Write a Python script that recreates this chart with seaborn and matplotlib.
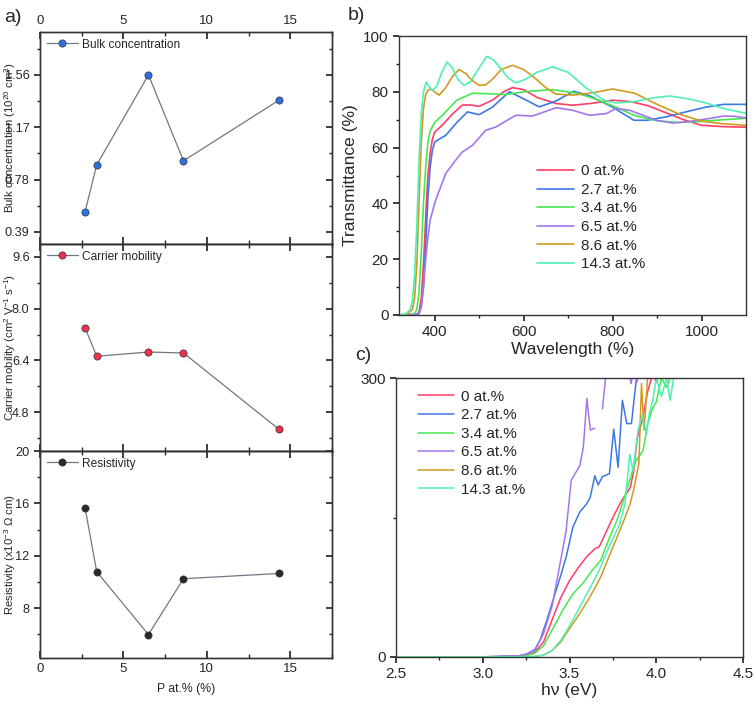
import numpy as np
import pandas as pd
import matplotlib
matplotlib.use("Agg")
import matplotlib.pyplot as plt
from matplotlib.ticker import MultipleLocator, FixedLocator
import seaborn as sns

sns.set_theme(style="white")
plt.rcParams['font.family'] = ['Liberation Sans', 'DejaVu Sans']
plt.rcParams['mathtext.fontset'] = 'custom'
plt.rcParams['mathtext.rm'] = 'Liberation Sans'
plt.rcParams['mathtext.default'] = 'regular'

# ---------------- Panel a data ----------------
p_at = [2.7, 3.4, 6.5, 8.6, 14.3]
bulk_conc = [0.54, 0.89, 1.56, 0.92, 1.37]
mobility = [7.41, 6.53, 6.66, 6.63, 4.28]
resistivity = [15.67, 10.78, 5.99, 10.25, 10.65]

# ---------------- Panel b data (transmittance) ----------------
labels = ['0 at.%', '2.7 at.%', '3.4 at.%', '6.5 at.%', '8.6 at.%', '14.3 at.%']
colors = ['#ff3d66', '#3d78e6', '#45e84f', '#a475ee', '#d29a1e', '#4ff0b4']

wl_0 = [320, 340, 360, 365, 370, 375, 380, 385, 390, 395, 400, 417, 440, 462, 480, 500, 530, 555, 575, 600, 630, 673, 710, 750, 800, 840, 880, 920, 960, 1000, 1050, 1100]
T_0 = [0, 0, 0.3, 1, 6, 18, 35, 50, 58, 63, 65.5, 68, 72, 75.2, 75.3, 74.8, 77, 80, 81.5, 80.8, 78, 75.8, 75.2, 75.8, 77, 76.5, 75, 72.5, 70, 68, 67.5, 67.3]

wl_27 = [320, 340, 360, 365, 370, 375, 380, 385, 390, 395, 400, 425, 450, 474, 500, 530, 568, 600, 635, 670, 713, 750, 800, 848, 878, 920, 970, 1010, 1049, 1100]
T_27 = [0, 0, 0.2, 0.5, 3, 10, 25, 42, 53, 59, 62, 64.4, 69, 72.8, 71.8, 74.5, 80, 77.5, 74.6, 76.5, 80.2, 78.5, 74.5, 69.8, 69.8, 71, 73, 74.5, 75.5, 75.5]

wl_34 = [320, 340, 355, 360, 365, 370, 375, 380, 385, 390, 400, 420, 450, 485, 520, 560, 600, 665, 720, 760, 800, 850, 900, 950, 1000, 1050, 1100]
T_34 = [0, 0, 0.5, 2, 8, 22, 40, 53, 62, 66, 69, 72, 77, 79.5, 79.3, 79, 80, 80.8, 79.5, 77.5, 75, 71.5, 69.6, 69, 69.4, 70, 70.5]

wl_65 = [320, 340, 360, 365, 370, 375, 380, 385, 390, 402, 425, 445, 462, 485, 515, 538, 560, 583, 620, 650, 673, 710, 748, 786, 808, 838, 870, 898, 936, 980, 1020, 1049, 1075, 1100]
T_65 = [0, 0, 0.2, 0.5, 3, 10, 20, 28, 34, 41, 50.7, 55, 58.4, 60.8, 66.2, 67.4, 69.5, 71.6, 71.3, 73, 74.3, 73.4, 71.6, 72.2, 74, 73.4, 71.5, 69.8, 68.8, 69.5, 70.5, 71.3, 71.2, 70.6]

wl_86 = [320, 340, 350, 355, 360, 365, 370, 375, 380, 385, 391, 400, 410, 425, 440, 455, 470, 485, 500, 515, 530, 550, 575, 600, 625, 650, 673, 710, 750, 800, 850, 900, 950, 1000, 1050, 1100]
T_86 = [0, 0.3, 2, 6, 18, 40, 62, 74, 79, 80.5, 81, 80, 78.8, 81.5, 85.5, 88, 86.5, 84, 82.3, 82.5, 84.5, 88, 89.5, 88, 85, 81.5, 79.2, 78.8, 79.5, 81, 79.5, 75.5, 72, 69.5, 68.5, 68]

wl_143 = [320, 335, 345, 350, 355, 360, 365, 370, 375, 381, 387, 395, 405, 415, 428, 440, 452, 466, 480, 500, 517, 532, 548, 565, 583, 605, 630, 665, 700, 740, 780, 808, 850, 890, 928, 970, 1010, 1050, 1100]
T_143 = [0, 0.3, 2, 5, 14, 32, 55, 72, 80, 83.5, 82, 80.5, 82, 86.5, 90.7, 88.5, 84.5, 82.3, 83.5, 88.5, 92.7, 91.5, 88.5, 85, 83.2, 84.5, 87, 88.9, 87, 81.5, 77, 76, 76.5, 77.8, 78.5, 77.5, 76, 74, 72.3]

# ---------------- Panel c data (Tauc) ----------------
hv_0 = [2.5, 3.0, 3.2, 3.25, 3.3, 3.35, 3.4, 3.45, 3.5, 3.55, 3.6, 3.65, 3.67, 3.7, 3.75, 3.8, 3.85, 3.87, 3.89, 3.92, 3.95, 3.98, 4.0, 4.02]
a_0 = [0, 0.2, 1, 2, 5, 16, 40, 64, 82, 96, 108, 117, 118, 130, 150, 168, 182, 200, 235, 255, 285, 305, 295, 310]

hv_27 = [2.5, 3.0, 3.2, 3.25, 3.3, 3.33, 3.37, 3.41, 3.45, 3.48, 3.52, 3.56, 3.6, 3.62, 3.646, 3.665, 3.69, 3.73, 3.755, 3.78, 3.805, 3.83, 3.857, 3.886, 3.9]
a_27 = [0, 0.2, 1, 3, 8, 18, 40, 64, 88, 107, 140, 156, 165, 172, 195, 185, 194, 197, 245, 204, 276, 251, 251, 300, 320]

hv_65a = [2.5, 3.0, 3.2, 3.25, 3.3, 3.35, 3.4, 3.44, 3.48, 3.51, 3.56, 3.58, 3.6, 3.62, 3.646]
a_65a = [0, 0.2, 1, 3, 7, 25, 55, 95, 135, 190, 206, 226, 278, 244, 246]
hv_65b = [3.69, 3.713, 3.75, 3.8, 3.84, 3.855, 3.87, 3.89, 3.9, 3.93]
a_65b = [267, 310, 330, 320, 310, 294, 310, 296, 310, 320]

hv_34 = [2.5, 3.0, 3.2, 3.25, 3.3, 3.35, 3.4, 3.46, 3.52, 3.58, 3.63, 3.68, 3.73, 3.78, 3.83, 3.88, 3.924, 3.95, 3.98, 4.0, 4.03, 4.06, 4.1]
a_34 = [0, 0.1, 0.5, 1.5, 4, 12, 29, 50, 68, 80, 93, 104, 128, 150, 180, 210, 222, 250, 268, 274, 300, 290, 310]

hv_86 = [2.5, 3.0, 3.3, 3.35, 3.4, 3.45, 3.48, 3.52, 3.56, 3.6, 3.64, 3.68, 3.71, 3.75, 3.79, 3.82, 3.85, 3.87, 3.9, 3.915, 3.93, 3.95, 3.97]
a_86 = [0, 0, 0.5, 2, 7, 16, 25, 36, 47, 59, 72, 86, 100, 118, 136, 150, 165, 180, 208, 294, 244, 300, 310]

hv_143 = [2.5, 3.0, 3.3, 3.35, 3.4, 3.45, 3.48, 3.52, 3.56, 3.6, 3.64, 3.68, 3.71, 3.75, 3.79, 3.82, 3.847, 3.866, 3.895, 3.92, 3.943, 3.96, 3.98, 4.0, 4.03, 4.06, 4.08, 4.1, 4.12]
a_143 = [0, 0, 0.5, 2, 7, 18, 27, 40, 54, 68, 82, 97, 111, 127, 143, 165, 218, 200, 244, 260, 240, 262, 276, 300, 280, 300, 276, 300, 310]

# ---------------- Figure ----------------
fig = plt.figure(figsize=(7.56, 7.05), dpi=100)
W, H = 756, 705

def box(l, t, r, b):
    return [l / W, (H - b) / H, (r - l) / W, (b - t) / H]

ax1 = fig.add_axes(box(40, 32, 332, 244))
ax2 = fig.add_axes(box(40, 244, 332, 451))
ax3 = fig.add_axes(box(40, 451, 332, 658))
axb = fig.add_axes(box(399, 36, 746, 315))
axc = fig.add_axes(box(396, 378, 743, 657))

line_gray = '#6f7880'
panel_a = [
    (ax1, bulk_conc, '#2f6fe6', 'Bulk concentration', 'Bulk concentration (10$^{20}$ cm$^{3}$)', (0.30, 1.88), [0.39, 0.78, 1.17, 1.56], 0.195, '{:.2f}'),
    (ax2, mobility, '#f0304e', 'Carrier mobility', 'Carrier mobility (cm$^{2}$ V$^{-1}$ s$^{-1}$)', (3.6, 10.0), [4.8, 6.4, 8.0, 9.6], 0.8, '{:.1f}'),
    (ax3, resistivity, '#2a2a2a', 'Resistivity', 'Resistivity (x10$^{-3}$ Ω cm)', (4.2, 20.0), [8, 12, 16, 20], 2, '{:.0f}'),
]
for ax, vals, mc, lab, ylab, ylim, yt, ymin, fmt in panel_a:
    df = pd.DataFrame({'x': p_at, 'y': vals})
    sns.lineplot(data=df, x='x', y='y', ax=ax, color=line_gray, lw=0.9,
                 marker='o', markersize=5.2, markerfacecolor=mc,
                 markeredgecolor='#333333', markeredgewidth=0.5, label=lab)
    ax.set_xlim(0, 17.5)
    ax.set_ylim(*ylim)
    ax.set_yticks(yt)
    ax.set_yticklabels([fmt.format(v) for v in yt])
    ax.yaxis.set_minor_locator(MultipleLocator(ymin))
    ax.xaxis.set_major_locator(MultipleLocator(5))
    ax.xaxis.set_minor_locator(MultipleLocator(2.5))
    ax.set_ylabel(ylab, fontsize=8.2, labelpad=2)
    ax.set_xlabel('')
    ax.tick_params(axis='y', which='both', direction='out', left=True, right=False, labelsize=9.2)
    ax.tick_params(axis='y', which='major', length=4)
    ax.tick_params(axis='y', which='minor', length=2.5)
    ax.tick_params(axis='x', which='both', direction='in', top=True, bottom=True, labelsize=9.5)
    ax.tick_params(axis='x', which='major', length=5)
    ax.tick_params(axis='x', which='minor', length=3)
    for sp in ax.spines.values():
        sp.set_color('#333333')
        sp.set_linewidth(1.0)
    ax.legend(loc='upper left', frameon=False, fontsize=8.6, handlelength=2.6,
              borderaxespad=0.15, handletextpad=0.4)
    ax.yaxis.set_label_coords(-0.077, 0.5)
    # right-side ticks pointing inward
    tw = ax.twinx()
    tw.set_ylim(*ylim)
    tw.set_yticks(yt)
    tw.yaxis.set_minor_locator(MultipleLocator(ymin))
    tw.tick_params(axis='y', which='both', direction='in', labelright=False, right=True)
    tw.tick_params(axis='y', which='major', length=4)
    tw.tick_params(axis='y', which='minor', length=2.5)
    tw.grid(False)
    for sp in tw.spines.values():
        sp.set_color('#333333')
        sp.set_linewidth(1.0)

ax1.tick_params(axis='x', labelbottom=False, labeltop=True)
ax2.tick_params(axis='x', labelbottom=False)
ax3.set_xlabel('P at.% (%)', fontsize=8.8, labelpad=6)

# ---------------- Panel b ----------------
wl_sets = [wl_0, wl_27, wl_34, wl_65, wl_86, wl_143]
T_sets = [T_0, T_27, T_34, T_65, T_86, T_143]
dfb = pd.concat([pd.DataFrame({'Wavelength': w, 'T': t, 'sample': l})
                 for w, t, l in zip(wl_sets, T_sets, labels)], ignore_index=True)
sns.lineplot(data=dfb, x='Wavelength', y='T', hue='sample', hue_order=labels,
             palette=colors, sort=False, estimator=None, lw=1.2, ax=axb)
axb.set_xlim(320, 1100)
axb.set_ylim(0, 100)
axb.xaxis.set_major_locator(FixedLocator([400, 600, 800, 1000]))
axb.xaxis.set_minor_locator(FixedLocator([500, 700, 900]))
axb.yaxis.set_major_locator(MultipleLocator(20))
axb.yaxis.set_minor_locator(MultipleLocator(10))
axb.tick_params(axis='both', which='both', direction='out', bottom=True, left=True, labelsize=11)
axb.tick_params(which='major', length=4)
axb.tick_params(which='minor', length=2.5)
axb.set_xlabel('Wavelength (%)', fontsize=12.5, labelpad=2)
axb.set_ylabel('Transmittance (%)', fontsize=12.5, labelpad=4)
axb.legend(loc='lower left', bbox_to_anchor=(0.38, 0.135), frameon=False, fontsize=11,
           handlelength=2.4, labelspacing=0.3, handletextpad=0.45, borderaxespad=0)

# ---------------- Panel c ----------------
c_sets = [(hv_0, a_0, labels[0], 0), (hv_27, a_27, labels[1], 0), (hv_34, a_34, labels[2], 0),
          (hv_65a, a_65a, labels[3], 0), (hv_65b, a_65b, labels[3], 1),
          (hv_86, a_86, labels[4], 0), (hv_143, a_143, labels[5], 0)]
dfc = pd.concat([pd.DataFrame({'hv': x, 'a': y, 'sample': l, 'seg': s})
                 for x, y, l, s in c_sets], ignore_index=True)
sns.lineplot(data=dfc, x='hv', y='a', hue='sample', hue_order=labels, units='seg',
             palette=colors, sort=False, estimator=None, lw=1.1, ax=axc)
axc.set_xlim(2.5, 4.5)
axc.set_ylim(0, 300)
axc.set_yticks([0, 300])
axc.yaxis.set_minor_locator(FixedLocator([150]))
axc.xaxis.set_major_locator(MultipleLocator(0.5))
axc.xaxis.set_minor_locator(MultipleLocator(0.25))
axc.tick_params(axis='both', which='both', direction='out', bottom=True, left=True, labelsize=11)
axc.tick_params(which='major', length=4)
axc.tick_params(which='minor', length=2.5)
axc.set_xlabel('hν (eV)', fontsize=12.5, labelpad=1)
axc.set_ylabel('')
h, l = axc.get_legend_handles_labels()
axc.legend(h, l, loc='upper left', bbox_to_anchor=(0.045, 0.98), frameon=False, fontsize=11,
           handlelength=2.4, labelspacing=0.3, handletextpad=0.45, borderaxespad=0)

for ax in (axb, axc):
    for sp in ax.spines.values():
        sp.set_color('#333333')
        sp.set_linewidth(1.0)
    ax.grid(False)

fig.text(4 / W, 1 - 22 / H, 'a)', fontsize=14)
fig.text(348 / W, 1 - 20 / H, 'b)', fontsize=14)
fig.text(355 / W, 1 - 360 / H, 'c)', fontsize=14)

fig.savefig('out.png', dpi=100)
